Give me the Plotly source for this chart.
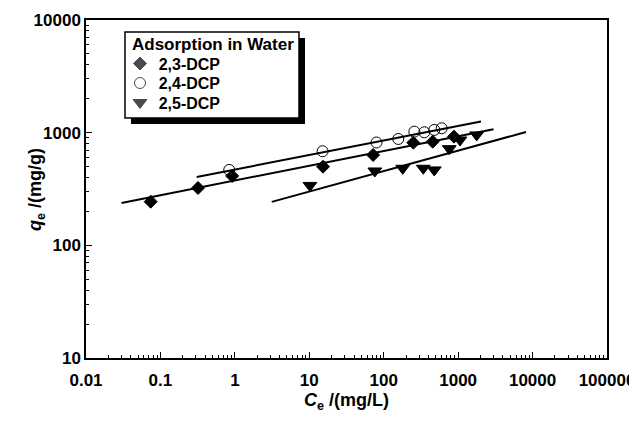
import plotly.graph_objects as go

# 2,3-DCP
c23 = [0.074, 0.32, 0.92, 15.3, 72, 250, 455, 880]
q23 = [244, 323, 413, 499, 634, 815, 832, 922]
# 2,4-DCP
c24 = [0.84, 15.1, 80, 157, 258, 351, 478, 601]
q24 = [467, 684, 818, 879, 1021, 1008, 1057, 1094]
# 2,5-DCP
c25 = [10.2, 76, 180, 340, 478, 760, 1059, 1775]
q25 = [340, 457, 483, 483, 467, 721, 861, 955]

# fitted isotherm lines (end points)
fit23_c = [0.030, 2985]
fit23_q = [238, 1072]
fit24_c = [0.307, 2028]
fit24_q = [404, 1257]
fit25_c = [3.13, 8166]
fit25_q = [243, 1014]

series_names = ["2,3-DCP", "2,4-DCP", "2,5-DCP"]
legend_title = "Adsorption in Water"

x_ticks = [0.01, 0.1, 1, 10, 100, 1000, 10000, 100000]
x_ticklabels = ["0.01", "0.1", "1", "10", "100", "1000", "10000", "100000"]
y_ticks = [10, 100, 1000, 10000]
y_ticklabels = ["10", "100", "1000", "10000"]

FONT = "Arial, Liberation Sans, sans-serif"
SYMBOLS = ["diamond", "circle-open", "triangle-down"]
SIZES = [10, 11, 12]

# page has an 8px body margin: size the figure so the page fits the window
OFF = 8
W, H = 637 - OFF, 423 - 2 * OFF
# plot area in window pixels
L, R, T, B = 86, 607, 20, 358
pw, ph = R - L, B - T

def px(xp):
    return (xp - L) / pw

def py(yp):
    return (B - yp) / ph

fig = go.Figure()
for fc, fq in [(fit23_c, fit23_q), (fit24_c, fit24_q), (fit25_c, fit25_q)]:
    fig.add_trace(go.Scatter(x=fc, y=fq, mode="lines", line=dict(color="black", width=2),
                             showlegend=False, hoverinfo="skip"))

for (cx, qy), name, sym, sz in zip([(c23, q23), (c24, q24), (c25, q25)], series_names, SYMBOLS, SIZES):
    fig.add_trace(go.Scatter(
        x=cx, y=qy, mode="markers", name=name, showlegend=False,
        marker=dict(symbol=sym, size=sz, color="black", line=dict(width=1, color="black"))))

# ---- legend box drawn by hand (with drop shadow) ----
box_l, box_r, box_t, box_b = 125, 299, 32, 118
sh = 6
fig.add_shape(type="rect", xref="paper", yref="paper",
              x0=px(box_l + sh), x1=px(box_r + sh), y0=py(box_b + sh), y1=py(box_t + sh),
              fillcolor="black", line=dict(width=0), layer="below")
fig.add_shape(type="rect", xref="paper", yref="paper",
              x0=px(box_l), x1=px(box_r), y0=py(box_b), y1=py(box_t),
              fillcolor="white", line=dict(width=1.5, color="black"), layer="below")

LINE = 15 * 1.3  # line spacing of the legend text block
first_line = 44
row_y = [first_line + LINE * (i + 1) for i in range(3)]
fig.add_trace(go.Scatter(
    x=[px(140)] * 3, y=[py(v) for v in row_y], mode="markers",
    xaxis="x2", yaxis="y2", showlegend=False, hoverinfo="skip",
    marker=dict(symbol=SYMBOLS, size=SIZES, color="black", line=dict(width=1, color="black"))))

indent = "\u00a0" * 6
legend_lines = ["<span style='font-size:17px'>%s</span>" % legend_title] + \
               ["<span style='font-size:16px'>%s%s</span>" % (indent, n) for n in series_names]
fig.add_annotation(text="<br>".join(legend_lines), xref="paper", yref="paper",
                   x=px(131), y=py(first_line - LINE / 2), xanchor="left", yanchor="top",
                   align="left", showarrow=False, borderpad=0,
                   font=dict(family=FONT, size=15, color="black", weight="bold"))

axis_common = dict(
    type="log", showgrid=False, zeroline=False, automargin=False,
    showline=True, linecolor="black", linewidth=1.5, mirror=True,
    ticks="inside", ticklen=6, tickwidth=1, tickcolor="black",
    tickfont=dict(family=FONT, size=17, color="black", weight="bold"),
    minor=dict(ticks="inside", ticklen=3, tickcolor="black", dtick="D1", showgrid=False),
)

fig.update_xaxes(**axis_common, range=[-2, 5], tickvals=x_ticks, ticktext=x_ticklabels,
                 ticklabelstandoff=6,
                 title=dict(text="<i>C</i><sub>e</sub> /(mg/L)",
                            font=dict(family=FONT, size=18, color="black", weight="bold"),
                            standoff=2))
fig.update_yaxes(**axis_common, range=[1, 4], tickvals=y_ticks, ticktext=y_ticklabels)

fig.add_annotation(text="<i>q</i><sub>e</sub> /(mg/g)", xref="paper", yref="paper",
                   x=px(36), y=py(190), textangle=-90, showarrow=False,
                   xanchor="center", yanchor="middle",
                   font=dict(family=FONT, size=18, color="black", weight="bold"))

fig.update_layout(
    width=W, height=H,
    margin=dict(l=L - OFF, r=W - (R - OFF), t=T - OFF, b=H - (B - OFF), autoexpand=False),
    paper_bgcolor="white", plot_bgcolor="rgba(0,0,0,0)",
    font=dict(family=FONT, color="black"),
    showlegend=False,
    xaxis2=dict(overlaying="x", range=[0, 1], visible=False, fixedrange=True),
    yaxis2=dict(overlaying="y", range=[0, 1], visible=False, fixedrange=True),
)

fig.write_html("out.html")
